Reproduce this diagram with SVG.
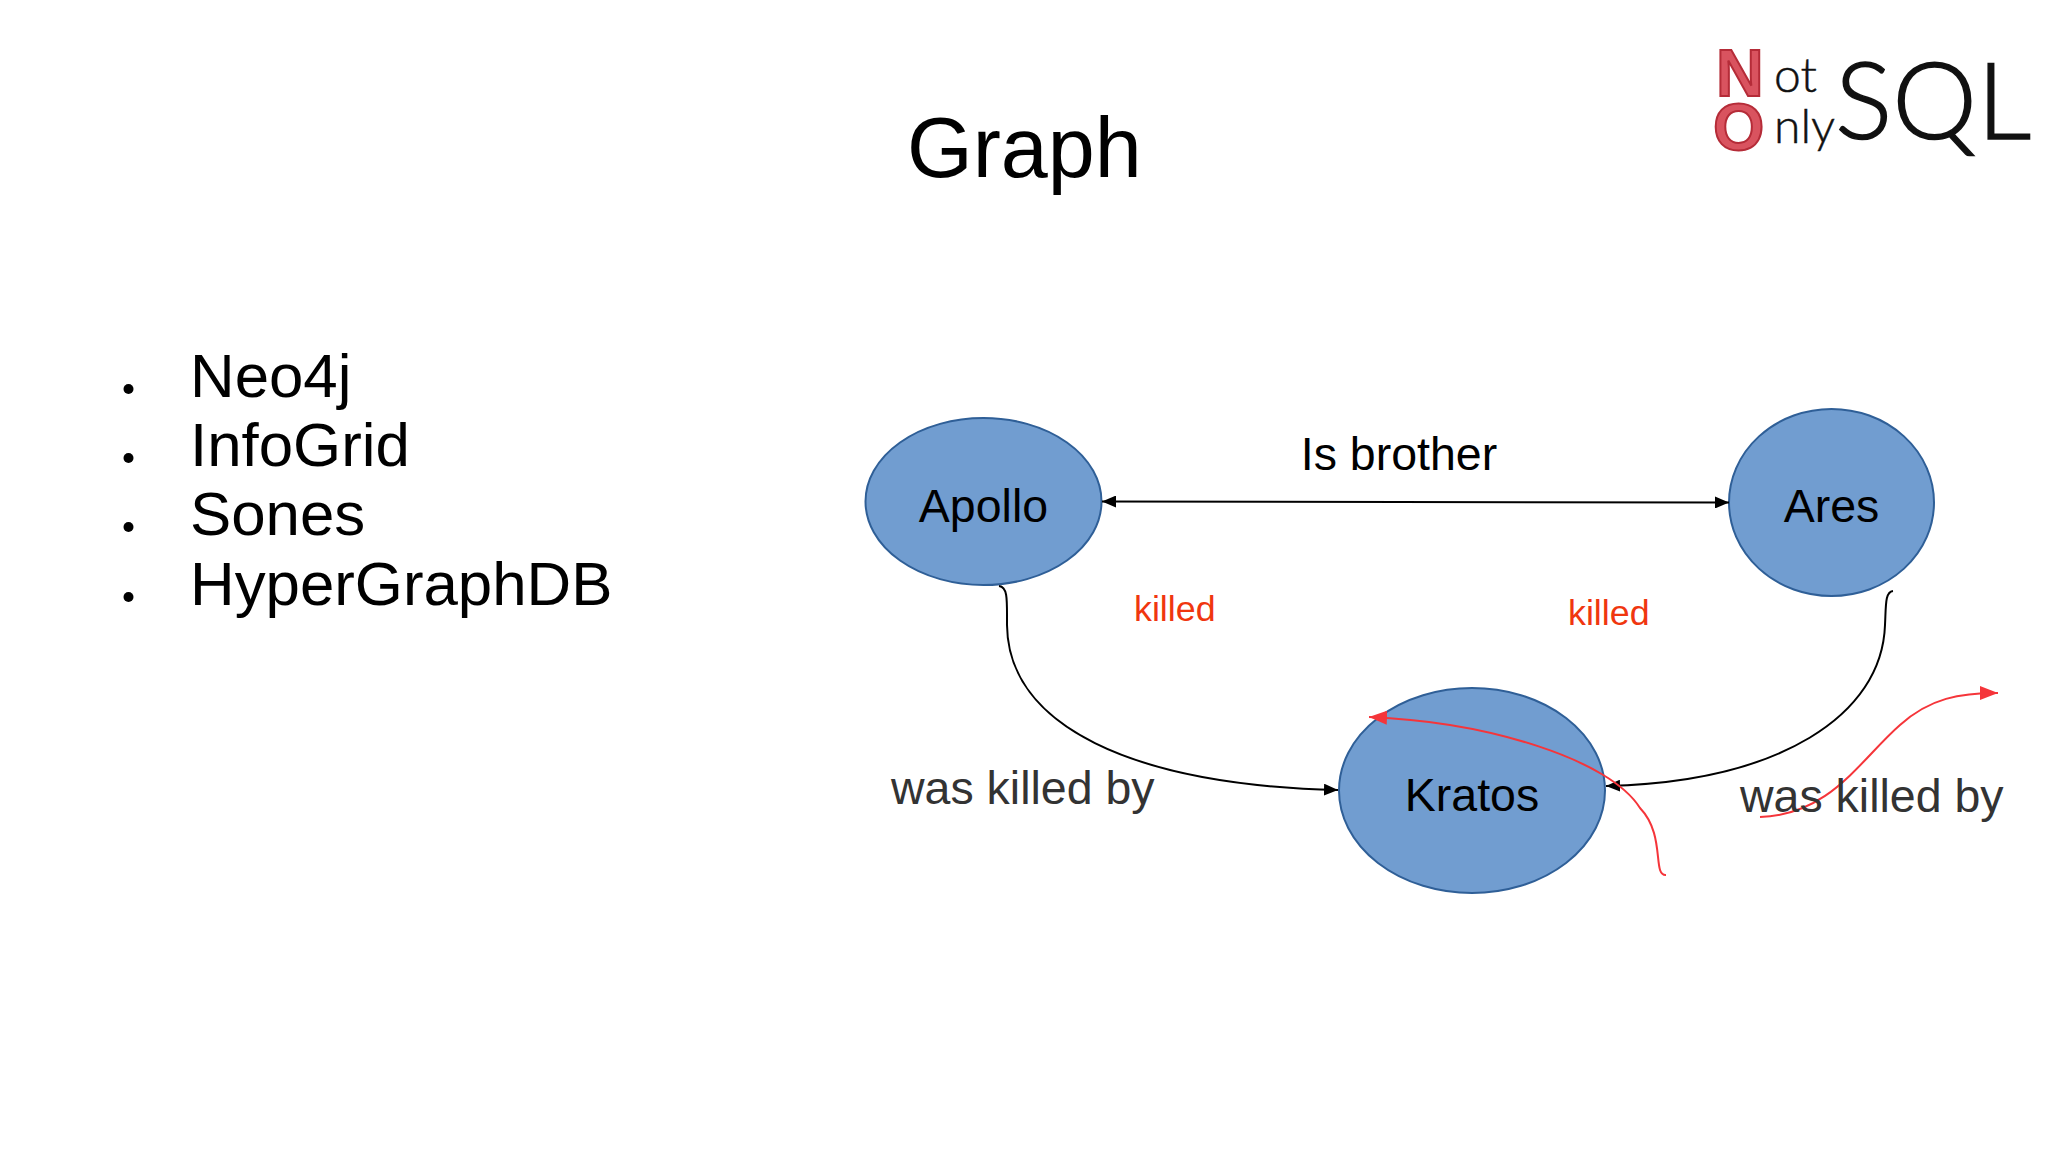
<svg xmlns="http://www.w3.org/2000/svg" width="2048" height="1152" viewBox="0 0 2048 1152">
<defs>
<marker id="ab" markerUnits="userSpaceOnUse" markerWidth="14" markerHeight="12" refX="14" refY="6" orient="auto-start-reverse"><path d="M0 0L14 6L0 12Z" fill="#000"/></marker>
<marker id="ar" markerUnits="userSpaceOnUse" markerWidth="18" markerHeight="14" refX="18" refY="7" orient="auto"><path d="M0 0L18 7L0 14Z" fill="#f5353a"/></marker>
</defs>
<style>
text{font-family:"Liberation Sans",Arial,sans-serif}
.n{fill:#719dd0;stroke:#2f5f97;stroke-width:2}
.l{font-size:46.500px;fill:#000;text-anchor:middle}
.e{font-size:46.500px;fill:#333}
.k{font-size:35.800px;fill:#f0360f}
.li{font-size:61.800px;fill:#000}
.c{fill:none;stroke:#000;stroke-width:2}
.r{fill:none;stroke:#f5353a;stroke-width:2}
.b{fill:#000}
.t{font-family:Lato,"Open Sans",sans-serif;font-weight:300;fill:#111;stroke:#111}
.red{font-family:"Liberation Sans",sans-serif;font-weight:700;fill:#d9535f;stroke:#b52c38;stroke-width:2}
</style>
<rect width="2048" height="1152" fill="#fff"/>
<text x="907" y="177" font-size="84.500" fill="#000">Graph</text>
<g id="list">
<circle class="b" cx="128.500" cy="389" r="5"/><text class="li" x="190" y="397">Neo4j</text>
<circle class="b" cx="128.500" cy="458" r="5"/><text class="li" x="190" y="466">InfoGrid</text>
<circle class="b" cx="128.500" cy="527" r="5"/><text class="li" x="190" y="535">Sones</text>
<circle class="b" cx="128.500" cy="597" r="5"/><text class="li" x="190" y="605">HyperGraphDB</text>
</g>
<g id="logo">
<text class="red" x="1716" y="96" font-size="66">N</text>
<text class="red" x="1713" y="150" font-size="66">O</text>
<text class="t" x="1774" y="92" font-size="48" stroke-width="0.500">ot</text>
<text class="t" x="1774" y="143" font-size="48" stroke-width="0.500">nly</text>
<text class="t" x="1835" y="139" font-size="107" stroke-width="1.500">SQL</text>
</g>
<g id="node-apollo"><ellipse class="n" cx="983.500" cy="501.500" rx="118" ry="83.500"/><text class="l" x="983.500" y="522">Apollo</text></g>
<g id="node-ares"><ellipse class="n" cx="1831.500" cy="502.500" rx="102.500" ry="93.500"/><text class="l" x="1831.500" y="522">Ares</text></g>
<g id="node-kratos"><ellipse class="n" cx="1472" cy="790.500" rx="133" ry="102.500"/><text class="l" x="1472" y="811">Kratos</text></g>
<g id="connectors">
<path class="c" d="M1102 501.500L1729 502.500" marker-start="url(#ab)" marker-end="url(#ab)"/>
<path class="c" d="M999 586C1008 587 1007 600 1007 625C1008 725 1130 785 1338 790" marker-end="url(#ab)"/>
<path class="c" d="M1893 591C1885 592 1886 605 1885 625C1882 715 1780 782 1606 786" marker-end="url(#ab)"/>
<path class="r" d="M1666 875C1652 876 1666 835 1640 808C1610 760 1490 722 1369 717" marker-end="url(#ar)"/>
<path class="r" d="M1760 817C1830 815 1860 760 1900 725C1930 698 1960 693 1998 693" marker-end="url(#ar)"/>
</g>
<text class="l" x="1399" y="470">Is brother</text>
<text class="e" x="891" y="804">was killed by</text>
<text class="e" x="1740" y="812">was killed by</text>
<text class="k" x="1134" y="621">killed</text>
<text class="k" x="1568" y="625">killed</text>
</svg>
